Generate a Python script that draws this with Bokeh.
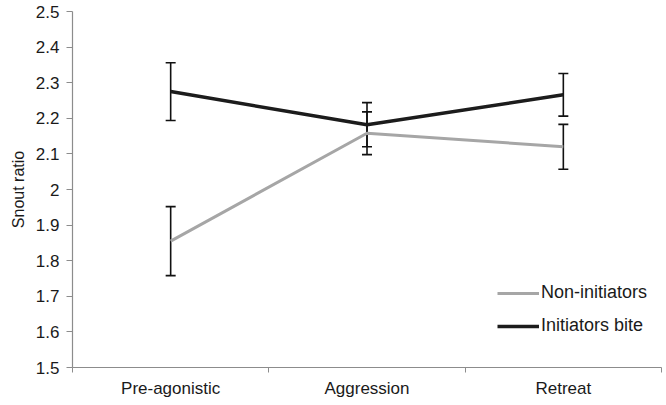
import numpy as np
from bokeh.plotting import figure
from bokeh.models import FixedTicker, CustomJSTickFormatter, Legend, LegendItem, Whisker, ColumnDataSource, Range1d
from bokeh.embed import file_html
from bokeh.resources import INLINE

categories = ["Pre-agonistic", "Aggression", "Retreat"]
non_initiators = [1.855, 2.158, 2.120]
non_initiators_err = [0.097, 0.060, 0.063]
initiators_bite = [2.275, 2.182, 2.266]
initiators_bite_err = [0.081, 0.062, 0.060]
y_ticks = [1.5, 1.6, 1.7, 1.8, 1.9, 2.0, 2.1, 2.2, 2.3, 2.4, 2.5]

x = np.arange(len(categories)) + 0.5

FONT = "Liberation Sans"

p = figure(width=664, height=400, output_backend="svg", toolbar_location=None,
           x_range=Range1d(0, len(categories)), y_range=Range1d(1.5, 2.5),
           min_border_left=72, min_border_top=11, min_border_right=3, min_border_bottom=30)
p.outline_line_color = None
p.grid.visible = False
p.background_fill_color = "white"

src_n = ColumnDataSource(dict(x=x, y=non_initiators,
                              lo=np.array(non_initiators) - np.array(non_initiators_err),
                              hi=np.array(non_initiators) + np.array(non_initiators_err)))
src_i = ColumnDataSource(dict(x=x, y=initiators_bite,
                              lo=np.array(initiators_bite) - np.array(initiators_bite_err),
                              hi=np.array(initiators_bite) + np.array(initiators_bite_err)))

r_n = p.line("x", "y", source=src_n, line_color="#a6a6a6", line_width=3)
r_i = p.line("x", "y", source=src_i, line_color="#1c1c1c", line_width=3.5)

for src in (src_n, src_i):
    w = Whisker(base="x", lower="lo", upper="hi", source=src, line_color="#111111", line_width=1.6)
    w.upper_head.size = 10
    w.lower_head.size = 10
    w.upper_head.line_width = 1.6
    w.lower_head.line_width = 1.6
    w.upper_head.line_color = "#111111"
    w.lower_head.line_color = "#111111"
    p.add_layout(w)

# x axis
xa = p.xaxis[0]
xa.ticker = FixedTicker(ticks=list(x), minor_ticks=list(range(len(categories) + 1)))
xa.major_label_overrides = {float(v): c for v, c in zip(x, categories)}
xa.major_tick_out = 0
xa.major_tick_in = 0
xa.minor_tick_out = 5
xa.minor_tick_in = 0
xa.minor_tick_line_color = "#8c8c8c"
xa.axis_line_color = "#8c8c8c"
xa.axis_line_width = 1.2
xa.major_label_text_font = FONT
xa.major_label_text_font_size = "17px"
xa.major_label_text_color = "#1a1a1a"
xa.major_label_standoff = 6

ya = p.yaxis[0]
ya.ticker = FixedTicker(ticks=y_ticks, minor_ticks=[])
ya.formatter = CustomJSTickFormatter(code="return (Math.round(tick*10)/10).toString();")
ya.major_tick_out = 6
ya.major_tick_in = 0
ya.major_tick_line_color = "#8c8c8c"
ya.axis_line_color = "#8c8c8c"
ya.axis_line_width = 1.2
ya.major_label_text_font = FONT
ya.major_label_text_font_size = "17px"
ya.major_label_text_color = "#1a1a1a"
ya.major_label_standoff = 7
ya.axis_label = "Snout ratio"
ya.axis_label_text_font = FONT
ya.axis_label_text_font_size = "16px"
ya.axis_label_text_font_style = "normal"
ya.axis_label_text_color = "#1a1a1a"
ya.axis_label_standoff = 6

legend = Legend(items=[LegendItem(label="Non-initiators", renderers=[r_n]),
                       LegendItem(label="Initiators bite", renderers=[r_i])],
                location=(425, 31), border_line_color=None, background_fill_alpha=0,
                label_text_font=FONT, label_text_font_size="18px", label_text_color="#1a1a1a",
                glyph_width=42, glyph_height=20, label_height=20, spacing=12,
                padding=0, margin=0, label_standoff=2)
p.add_layout(legend)

open("out.html", "w").write(file_html(p, INLINE))
